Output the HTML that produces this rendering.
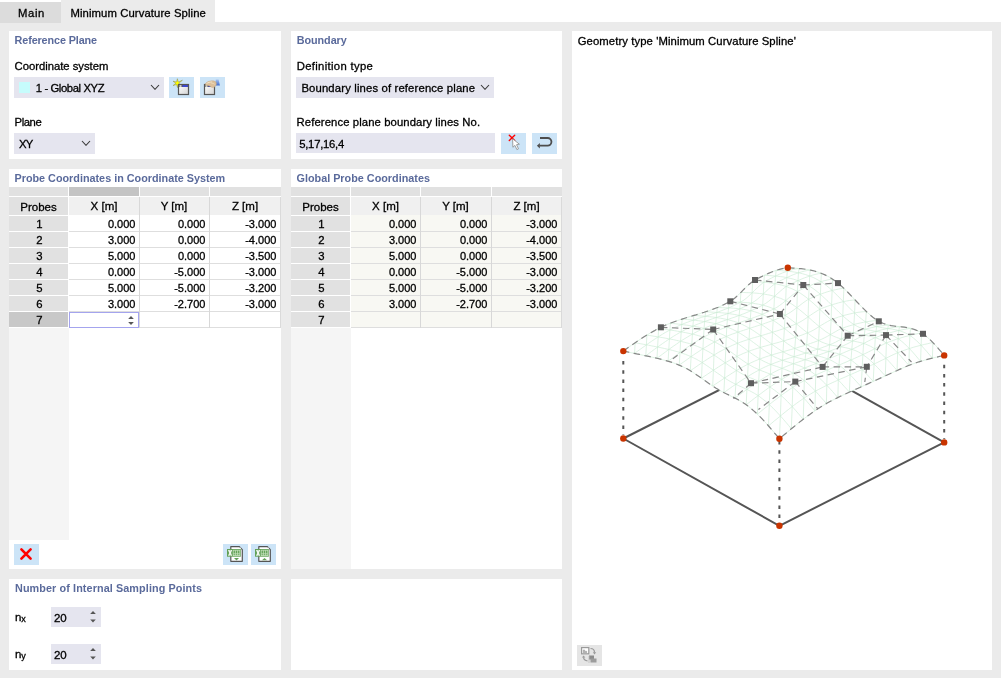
<!DOCTYPE html>
<html><head><meta charset="utf-8"><title>Minimum Curvature Spline</title>
<style>
html,body{margin:0;padding:0;}
body{width:1001px;height:678px;overflow:hidden;background:#ebebeb;position:relative;font-family:"Liberation Sans", Arial, sans-serif;}
body>div,body>svg{position:absolute;}
.t{white-space:nowrap;-webkit-text-stroke:0.3px currentColor;}
.b{-webkit-text-stroke:0;}
</style></head><body>
<div style="left:0px;top:0px;width:1001px;height:22px;background:#ffffff;"></div>
<div style="left:0px;top:2px;width:61px;height:21px;background:#dcdcdc;"></div>
<div style="left:61px;top:0px;width:154px;height:22px;background:#ebebeb;"></div>
<div class="t" style="top:6.28px;font-size:11.3px;line-height:14px;color:#000;letter-spacing:0.599px;left:18.00px;">Main</div>
<div class="t" style="top:6.28px;font-size:11.3px;line-height:14px;color:#000;letter-spacing:0.104px;left:70.40px;">Minimum Curvature Spline</div>
<div style="left:9px;top:31px;width:272px;height:128px;background:#ffffff;"></div>
<div style="left:291px;top:31px;width:271px;height:128px;background:#ffffff;"></div>
<div style="left:9px;top:169px;width:272px;height:400px;background:#ffffff;"></div>
<div style="left:291px;top:169px;width:271px;height:400px;background:#ffffff;"></div>
<div style="left:9px;top:579px;width:272px;height:91px;background:#ffffff;"></div>
<div style="left:291px;top:579px;width:271px;height:91px;background:#ffffff;"></div>
<div style="left:572px;top:31px;width:420px;height:639px;background:#ffffff;"></div>
<div class="t b" style="top:33.16px;font-size:10.8px;line-height:14px;color:#5a6a9b;font-weight:bold;letter-spacing:-0.115px;left:14.60px;">Reference Plane</div>
<div class="t" style="top:58.98px;font-size:11.3px;line-height:14px;color:#000;letter-spacing:-0.023px;left:14.60px;">Coordinate system</div>
<div style="left:14px;top:77px;width:150px;height:21px;background:#e5e5ef;"></div>
<div style="left:19px;top:82px;width:11px;height:11px;background:#c6fcfc;"></div>
<div class="t" style="top:80.98px;font-size:11.3px;line-height:14px;color:#000;letter-spacing:-0.407px;left:35.80px;">1 - Global XYZ</div>
<svg style="left:150.0px;top:84.05px" width="10" height="6.3"><polyline points="1,1 5.0,5.3 9,1" fill="none" stroke="#3a3a3a" stroke-width="1.1"/></svg>
<div style="left:169px;top:77px;width:25px;height:21px;background:#cce4f7;"></div>
<div style="left:200px;top:77px;width:25px;height:21px;background:#cce4f7;"></div>
<div class="t" style="top:114.98px;font-size:11.3px;line-height:14px;color:#000;letter-spacing:-0.403px;left:14.50px;">Plane</div>
<div style="left:14px;top:133px;width:81px;height:21px;background:#e5e5ef;"></div>
<div class="t" style="top:136.98px;font-size:11.3px;line-height:14px;color:#000;letter-spacing:-0.8px;left:18.90px;">XY</div>
<svg style="left:81.0px;top:140.15px" width="10" height="6.3"><polyline points="1,1 5.0,5.3 9,1" fill="none" stroke="#3a3a3a" stroke-width="1.1"/></svg>
<div class="t b" style="top:33.16px;font-size:10.8px;line-height:14px;color:#5a6a9b;font-weight:bold;letter-spacing:-0.041px;left:296.70px;">Boundary</div>
<div class="t" style="top:58.98px;font-size:11.3px;line-height:14px;color:#000;letter-spacing:0.328px;left:296.70px;">Definition type</div>
<div style="left:296px;top:77px;width:198px;height:21px;background:#e5e5ef;"></div>
<div class="t" style="top:80.98px;font-size:11.3px;line-height:14px;color:#000;letter-spacing:0.148px;left:301.40px;">Boundary lines of reference plane</div>
<svg style="left:480.0px;top:84.14999999999999px" width="10" height="6.3"><polyline points="1,1 5.0,5.3 9,1" fill="none" stroke="#3a3a3a" stroke-width="1.1"/></svg>
<div class="t" style="top:114.98px;font-size:11.3px;line-height:14px;color:#000;letter-spacing:0.103px;left:296.50px;">Reference plane boundary lines No.</div>
<div style="left:296px;top:133px;width:199px;height:20px;background:#e5e5ef;"></div>
<div class="t" style="top:137.18px;font-size:11.3px;line-height:14px;color:#000;letter-spacing:-0.254px;left:299.20px;">5,17,16,4</div>
<div style="left:501px;top:133px;width:25px;height:21px;background:#cce4f7;"></div>
<div style="left:532px;top:133px;width:25px;height:21px;background:#cce4f7;"></div>
<div class="t b" style="top:171.26px;font-size:10.8px;line-height:14px;color:#5a6a9b;font-weight:bold;letter-spacing:0.003px;left:14.50px;">Probe Coordinates in Coordinate System</div>
<div style="left:9px;top:187px;width:59px;height:9px;background:#e1e1e1;"></div>
<div style="left:69px;top:187px;width:70px;height:9px;background:#c4c4c4;"></div>
<div style="left:140px;top:187px;width:69px;height:9px;background:#e1e1e1;"></div>
<div style="left:210px;top:187px;width:71px;height:9px;background:#e1e1e1;"></div>
<div style="left:9px;top:197px;width:59px;height:18px;background:#e1e1e1;"></div>
<div style="left:69px;top:197px;width:212px;height:18px;background:#f0f0f0;"></div>
<div style="left:69px;top:215px;width:212px;height:1px;background:#d4d4d4;"></div>
<div class="t" style="top:199.52px;font-size:11.5px;line-height:14px;color:#000;left:8.50px;width:60px;text-align:center;">Probes</div>
<div class="t" style="top:199.02px;font-size:11.5px;line-height:14px;color:#000;left:69.00px;width:70px;text-align:center;">X [m]</div>
<div class="t" style="top:199.02px;font-size:11.5px;line-height:14px;color:#000;left:139.00px;width:70px;text-align:center;">Y [m]</div>
<div class="t" style="top:199.02px;font-size:11.5px;line-height:14px;color:#000;left:210.00px;width:70px;text-align:center;">Z [m]</div>
<div style="left:69px;top:215px;width:212px;height:112px;background:#ffffff;"></div>
<div style="left:9px;top:216px;width:59px;height:15px;background:#e1e1e1;"></div>
<div class="t" style="top:216.88px;font-size:11.3px;line-height:14px;color:#000;left:9.50px;width:60px;text-align:center;">1</div>
<div class="t" style="top:216.99px;font-size:11px;line-height:14px;color:#000;right:865.6px;text-align:right;">0.000</div>
<div class="t" style="top:216.99px;font-size:11px;line-height:14px;color:#000;right:795.6px;text-align:right;">0.000</div>
<div class="t" style="top:216.99px;font-size:11px;line-height:14px;color:#000;right:724.6px;text-align:right;">-3.000</div>
<div style="left:69px;top:231px;width:212px;height:1px;background:#dedede;"></div>
<div style="left:9px;top:232px;width:59px;height:15px;background:#e1e1e1;"></div>
<div class="t" style="top:232.88px;font-size:11.3px;line-height:14px;color:#000;left:9.50px;width:60px;text-align:center;">2</div>
<div class="t" style="top:232.99px;font-size:11px;line-height:14px;color:#000;right:865.6px;text-align:right;">3.000</div>
<div class="t" style="top:232.99px;font-size:11px;line-height:14px;color:#000;right:795.6px;text-align:right;">0.000</div>
<div class="t" style="top:232.99px;font-size:11px;line-height:14px;color:#000;right:724.6px;text-align:right;">-4.000</div>
<div style="left:69px;top:247px;width:212px;height:1px;background:#dedede;"></div>
<div style="left:9px;top:248px;width:59px;height:15px;background:#e1e1e1;"></div>
<div class="t" style="top:248.88px;font-size:11.3px;line-height:14px;color:#000;left:9.50px;width:60px;text-align:center;">3</div>
<div class="t" style="top:248.99px;font-size:11px;line-height:14px;color:#000;right:865.6px;text-align:right;">5.000</div>
<div class="t" style="top:248.99px;font-size:11px;line-height:14px;color:#000;right:795.6px;text-align:right;">0.000</div>
<div class="t" style="top:248.99px;font-size:11px;line-height:14px;color:#000;right:724.6px;text-align:right;">-3.500</div>
<div style="left:69px;top:263px;width:212px;height:1px;background:#dedede;"></div>
<div style="left:9px;top:264px;width:59px;height:15px;background:#e1e1e1;"></div>
<div class="t" style="top:264.88px;font-size:11.3px;line-height:14px;color:#000;left:9.50px;width:60px;text-align:center;">4</div>
<div class="t" style="top:264.99px;font-size:11px;line-height:14px;color:#000;right:865.6px;text-align:right;">0.000</div>
<div class="t" style="top:264.99px;font-size:11px;line-height:14px;color:#000;right:795.6px;text-align:right;">-5.000</div>
<div class="t" style="top:264.99px;font-size:11px;line-height:14px;color:#000;right:724.6px;text-align:right;">-3.000</div>
<div style="left:69px;top:279px;width:212px;height:1px;background:#dedede;"></div>
<div style="left:9px;top:280px;width:59px;height:15px;background:#e1e1e1;"></div>
<div class="t" style="top:280.88px;font-size:11.3px;line-height:14px;color:#000;left:9.50px;width:60px;text-align:center;">5</div>
<div class="t" style="top:280.99px;font-size:11px;line-height:14px;color:#000;right:865.6px;text-align:right;">5.000</div>
<div class="t" style="top:280.99px;font-size:11px;line-height:14px;color:#000;right:795.6px;text-align:right;">-5.000</div>
<div class="t" style="top:280.99px;font-size:11px;line-height:14px;color:#000;right:724.6px;text-align:right;">-3.200</div>
<div style="left:69px;top:295px;width:212px;height:1px;background:#dedede;"></div>
<div style="left:9px;top:296px;width:59px;height:15px;background:#e1e1e1;"></div>
<div class="t" style="top:296.88px;font-size:11.3px;line-height:14px;color:#000;left:9.50px;width:60px;text-align:center;">6</div>
<div class="t" style="top:296.99px;font-size:11px;line-height:14px;color:#000;right:865.6px;text-align:right;">3.000</div>
<div class="t" style="top:296.99px;font-size:11px;line-height:14px;color:#000;right:795.6px;text-align:right;">-2.700</div>
<div class="t" style="top:296.99px;font-size:11px;line-height:14px;color:#000;right:724.6px;text-align:right;">-3.000</div>
<div style="left:69px;top:311px;width:212px;height:1px;background:#dedede;"></div>
<div style="left:9px;top:312px;width:59px;height:15px;background:#c8c8c8;"></div>
<div class="t" style="top:312.88px;font-size:11.3px;line-height:14px;color:#000;left:9.50px;width:60px;text-align:center;">7</div>
<div style="left:69px;top:327px;width:212px;height:1px;background:#dedede;"></div>
<div style="left:139px;top:197px;width:1px;height:131px;background:#d8d8d8;"></div>
<div style="left:209px;top:197px;width:1px;height:131px;background:#d8d8d8;"></div>
<div style="left:280px;top:197px;width:1px;height:131px;background:#dadada;"></div>
<div style="left:9px;top:328px;width:60px;height:212px;background:#f5f5f5;"></div>
<div class="t b" style="top:171.26px;font-size:10.8px;line-height:14px;color:#5a6a9b;font-weight:bold;letter-spacing:0.01px;left:296.50px;">Global Probe Coordinates</div>
<div style="left:291px;top:187px;width:59px;height:9px;background:#e1e1e1;"></div>
<div style="left:351px;top:187px;width:69px;height:9px;background:#e1e1e1;"></div>
<div style="left:421px;top:187px;width:70px;height:9px;background:#e1e1e1;"></div>
<div style="left:492px;top:187px;width:70px;height:9px;background:#e1e1e1;"></div>
<div style="left:291px;top:197px;width:59px;height:18px;background:#e1e1e1;"></div>
<div style="left:351px;top:197px;width:211px;height:18px;background:#f0f0f0;"></div>
<div style="left:351px;top:215px;width:211px;height:1px;background:#d4d4d4;"></div>
<div class="t" style="top:199.52px;font-size:11.5px;line-height:14px;color:#000;left:290.50px;width:60px;text-align:center;">Probes</div>
<div class="t" style="top:199.02px;font-size:11.5px;line-height:14px;color:#000;left:350.50px;width:70px;text-align:center;">X [m]</div>
<div class="t" style="top:199.02px;font-size:11.5px;line-height:14px;color:#000;left:420.50px;width:70px;text-align:center;">Y [m]</div>
<div class="t" style="top:199.02px;font-size:11.5px;line-height:14px;color:#000;left:491.50px;width:70px;text-align:center;">Z [m]</div>
<div style="left:351px;top:215px;width:211px;height:112px;background:#f8f8f3;"></div>
<div style="left:291px;top:216px;width:59px;height:15px;background:#e1e1e1;"></div>
<div class="t" style="top:216.88px;font-size:11.3px;line-height:14px;color:#000;left:291.50px;width:60px;text-align:center;">1</div>
<div class="t" style="top:216.99px;font-size:11px;line-height:14px;color:#000;right:584.6px;text-align:right;">0.000</div>
<div class="t" style="top:216.99px;font-size:11px;line-height:14px;color:#000;right:513.6px;text-align:right;">0.000</div>
<div class="t" style="top:216.99px;font-size:11px;line-height:14px;color:#000;right:443.6px;text-align:right;">-3.000</div>
<div style="left:351px;top:231px;width:211px;height:1px;background:#dedede;"></div>
<div style="left:291px;top:232px;width:59px;height:15px;background:#e1e1e1;"></div>
<div class="t" style="top:232.88px;font-size:11.3px;line-height:14px;color:#000;left:291.50px;width:60px;text-align:center;">2</div>
<div class="t" style="top:232.99px;font-size:11px;line-height:14px;color:#000;right:584.6px;text-align:right;">3.000</div>
<div class="t" style="top:232.99px;font-size:11px;line-height:14px;color:#000;right:513.6px;text-align:right;">0.000</div>
<div class="t" style="top:232.99px;font-size:11px;line-height:14px;color:#000;right:443.6px;text-align:right;">-4.000</div>
<div style="left:351px;top:247px;width:211px;height:1px;background:#dedede;"></div>
<div style="left:291px;top:248px;width:59px;height:15px;background:#e1e1e1;"></div>
<div class="t" style="top:248.88px;font-size:11.3px;line-height:14px;color:#000;left:291.50px;width:60px;text-align:center;">3</div>
<div class="t" style="top:248.99px;font-size:11px;line-height:14px;color:#000;right:584.6px;text-align:right;">5.000</div>
<div class="t" style="top:248.99px;font-size:11px;line-height:14px;color:#000;right:513.6px;text-align:right;">0.000</div>
<div class="t" style="top:248.99px;font-size:11px;line-height:14px;color:#000;right:443.6px;text-align:right;">-3.500</div>
<div style="left:351px;top:263px;width:211px;height:1px;background:#dedede;"></div>
<div style="left:291px;top:264px;width:59px;height:15px;background:#e1e1e1;"></div>
<div class="t" style="top:264.88px;font-size:11.3px;line-height:14px;color:#000;left:291.50px;width:60px;text-align:center;">4</div>
<div class="t" style="top:264.99px;font-size:11px;line-height:14px;color:#000;right:584.6px;text-align:right;">0.000</div>
<div class="t" style="top:264.99px;font-size:11px;line-height:14px;color:#000;right:513.6px;text-align:right;">-5.000</div>
<div class="t" style="top:264.99px;font-size:11px;line-height:14px;color:#000;right:443.6px;text-align:right;">-3.000</div>
<div style="left:351px;top:279px;width:211px;height:1px;background:#dedede;"></div>
<div style="left:291px;top:280px;width:59px;height:15px;background:#e1e1e1;"></div>
<div class="t" style="top:280.88px;font-size:11.3px;line-height:14px;color:#000;left:291.50px;width:60px;text-align:center;">5</div>
<div class="t" style="top:280.99px;font-size:11px;line-height:14px;color:#000;right:584.6px;text-align:right;">5.000</div>
<div class="t" style="top:280.99px;font-size:11px;line-height:14px;color:#000;right:513.6px;text-align:right;">-5.000</div>
<div class="t" style="top:280.99px;font-size:11px;line-height:14px;color:#000;right:443.6px;text-align:right;">-3.200</div>
<div style="left:351px;top:295px;width:211px;height:1px;background:#dedede;"></div>
<div style="left:291px;top:296px;width:59px;height:15px;background:#e1e1e1;"></div>
<div class="t" style="top:296.88px;font-size:11.3px;line-height:14px;color:#000;left:291.50px;width:60px;text-align:center;">6</div>
<div class="t" style="top:296.99px;font-size:11px;line-height:14px;color:#000;right:584.6px;text-align:right;">3.000</div>
<div class="t" style="top:296.99px;font-size:11px;line-height:14px;color:#000;right:513.6px;text-align:right;">-2.700</div>
<div class="t" style="top:296.99px;font-size:11px;line-height:14px;color:#000;right:443.6px;text-align:right;">-3.000</div>
<div style="left:351px;top:311px;width:211px;height:1px;background:#dedede;"></div>
<div style="left:291px;top:312px;width:59px;height:15px;background:#e1e1e1;"></div>
<div class="t" style="top:312.88px;font-size:11.3px;line-height:14px;color:#000;left:291.50px;width:60px;text-align:center;">7</div>
<div style="left:351px;top:327px;width:211px;height:1px;background:#dedede;"></div>
<div style="left:420px;top:197px;width:1px;height:131px;background:#d8d8d8;"></div>
<div style="left:491px;top:197px;width:1px;height:131px;background:#d8d8d8;"></div>
<div style="left:561px;top:197px;width:1px;height:131px;background:#dadada;"></div>
<div style="left:291px;top:328px;width:60px;height:241px;background:#f5f5f5;"></div>
<div style="left:69px;top:312px;width:70px;height:16px;background:#ffffff;box-shadow: inset 0 0 0 1px #a4a4ee;"></div>
<div style="left:14px;top:544px;width:25px;height:21px;background:#cce4f7;"></div>
<div style="left:223px;top:544px;width:25px;height:21px;background:#cce4f7;"></div>
<div style="left:251px;top:544px;width:25px;height:21px;background:#cce4f7;"></div>
<div class="t b" style="top:581.26px;font-size:10.8px;line-height:14px;color:#5a6a9b;font-weight:bold;letter-spacing:0.104px;left:15.00px;">Number of Internal Sampling Points</div>
<div class="t" style="top:609.82px;font-size:11.5px;line-height:14px;color:#000;left:14.90px;">n<span style="font-size:9px;position:relative;top:1px">x</span></div>
<div style="left:51px;top:607px;width:50px;height:20px;background:#e5e5ef;"></div>
<div class="t" style="top:610.62px;font-size:11.5px;line-height:14px;color:#000;left:53.90px;">20</div>
<div class="t" style="top:646.82px;font-size:11.5px;line-height:14px;color:#000;left:14.90px;">n<span style="font-size:9px;position:relative;top:1px">y</span></div>
<div style="left:51px;top:644px;width:50px;height:20px;background:#e5e5ef;"></div>
<div class="t" style="top:647.62px;font-size:11.5px;line-height:14px;color:#000;left:53.90px;">20</div>
<div class="t" style="top:33.98px;font-size:11.3px;line-height:14px;color:#000;letter-spacing:0.09px;left:577.70px;">Geometry type 'Minimum Curvature Spline'</div>
<div style="left:577px;top:645px;width:25px;height:21px;background:#e5e5e5;"></div>
<svg style="left:572px;top:31px" width="420" height="639" viewBox="572 31 420 639"><line x1="623.3" y1="438.5" x2="788.1" y2="355.1" stroke="#555555" stroke-width="2"/>
<line x1="944.2" y1="442.4" x2="788.1" y2="355.1" stroke="#555555" stroke-width="2"/>
<polyline points="623.3,438.5 779.4,525.8 944.2,442.4" fill="none" stroke="#555555" stroke-width="2"/>
<line x1="623.3" y1="361.0" x2="623.3" y2="435.0" stroke="#555555" stroke-width="2" stroke-dasharray="3.5 5.7"/>
<line x1="779.4" y1="441.0" x2="779.4" y2="522.3" stroke="#555555" stroke-width="2" stroke-dasharray="3.5 5.7"/>
<line x1="944.2" y1="364.7" x2="944.2" y2="438.9" stroke="#555555" stroke-width="2" stroke-dasharray="3.5 5.7"/>
<path d="M623.3,351.1 L626.1,349.1 L628.9,347.1 L631.7,345.1 L634.5,343.2 L637.3,341.3 L640.1,339.4 L642.9,337.6 L645.7,335.8 L648.5,334.1 L651.3,332.4 L654.1,330.9 L656.8,329.3 L659.6,327.9 L662.4,326.6 L665.2,325.3 L668.0,324.1 L670.8,323.0 L673.6,322.0 L676.4,321.0 L679.2,320.0 L682.0,319.1 L684.7,318.2 L687.5,317.4 L690.3,316.5 L693.1,315.7 L695.9,314.9 L698.7,314.0 L701.5,313.1 L704.2,312.3 L707.0,311.3 L709.8,310.4 L712.6,309.4 L715.4,308.3 L718.2,307.2 L721.0,306.0 L723.7,304.7 L726.5,303.3 L729.3,301.8 L732.1,300.2 L734.9,298.0 L737.7,295.5 L740.5,292.8 L743.3,289.9 L746.1,287.1 L748.9,284.5 L751.7,282.2 L754.4,280.3 L757.2,278.8 L760.0,277.4 L762.8,276.0 L765.6,274.7 L768.4,273.4 L771.1,272.2 L773.9,271.1 L776.7,270.2 L779.5,269.3 L782.3,268.7 L785.0,268.1 L787.8,267.8 L790.5,267.9 L793.1,268.1 L795.8,268.2 L798.4,268.5 L801.1,268.7 L803.7,269.0 L806.4,269.4 L809.0,269.8 L811.7,270.4 L814.4,271.0 L817.0,271.8 L819.7,272.7 L822.3,273.7 L825.0,274.9 L827.7,276.2 L830.3,277.7 L833.0,279.4 L835.7,281.3 L838.3,283.4 L841.0,285.7 L843.7,288.1 L846.3,290.7 L849.0,293.5 L851.7,296.3 L854.3,299.1 L857.0,302.0 L859.7,304.8 L862.3,307.5 L865.0,310.2 L867.7,312.8 L870.3,315.1 L872.9,317.3 L875.6,319.3 L878.2,321.0 L880.8,322.4 L883.5,323.5 L886.1,324.4 L888.7,325.1 L891.3,325.6 L893.9,326.0 L896.5,326.4 L899.1,326.6 L901.7,326.9 L904.3,327.2 L907.0,327.6 L909.6,328.1 L912.2,328.8 L914.8,329.6 L917.5,330.7 L920.1,332.0 L922.8,333.6 L925.4,335.6 L928.1,337.9 L930.8,340.4 L933.4,343.1 L936.1,346.0 L938.8,349.1 L941.5,352.2 L944.2,355.4 L941.4,356.0 L938.6,356.7 L935.8,357.3 L933.0,358.0 L930.2,358.7 L927.4,359.4 L924.6,360.2 L921.8,361.0 L919.0,361.8 L916.2,362.7 L913.4,363.7 L910.7,364.7 L907.9,365.8 L905.1,367.0 L902.3,368.2 L899.5,369.4 L896.7,370.7 L893.9,371.9 L891.1,373.2 L888.3,374.5 L885.5,375.8 L882.6,377.1 L879.8,378.4 L876.9,379.7 L874.0,381.0 L871.2,382.3 L868.3,383.6 L865.5,384.9 L862.6,386.2 L859.8,387.5 L857.0,388.7 L854.1,390.0 L851.4,391.2 L848.6,392.5 L845.8,393.8 L843.1,395.0 L840.4,396.3 L837.7,397.6 L835.0,399.0 L832.2,400.4 L829.5,401.8 L826.8,403.3 L824.1,404.9 L821.4,406.5 L818.7,408.3 L815.9,410.1 L813.2,412.0 L810.4,413.9 L807.6,416.0 L804.8,418.1 L802.0,420.2 L799.2,422.4 L796.4,424.7 L793.6,427.0 L790.7,429.3 L787.9,431.7 L785.1,434.0 L782.2,436.4 L779.4,438.8 L776.8,435.7 L774.2,432.6 L771.6,429.5 L769.0,426.5 L766.4,423.5 L763.8,420.7 L761.2,417.9 L758.5,415.3 L755.9,412.8 L753.2,410.4 L750.6,408.1 L747.9,406.0 L745.2,404.1 L742.6,402.3 L739.9,400.7 L737.3,399.3 L734.6,397.9 L732.0,396.6 L729.4,395.3 L726.7,394.0 L724.1,392.7 L721.4,391.3 L718.8,389.8 L716.1,388.2 L713.5,386.5 L710.8,384.7 L708.2,382.9 L705.5,381.0 L702.9,379.2 L700.2,377.3 L697.5,375.4 L694.9,373.6 L692.2,371.9 L689.6,370.3 L687.0,368.8 L684.3,367.5 L681.7,366.2 L679.0,365.1 L676.4,364.0 L673.8,363.0 L671.2,362.1 L668.5,361.3 L665.9,360.6 L663.3,359.9 L660.6,359.2 L658.0,358.5 L655.3,357.9 L652.7,357.3 L650.0,356.7 L647.4,356.1 L644.7,355.6 L642.0,355.0 L639.4,354.4 L636.7,353.9 L634.0,353.3 L631.3,352.7 L628.7,352.2 L626.0,351.6 L623.3,351.1Z" fill="#ffffff" stroke="none"/>
<path d="M623.3,351.1 L626.0,351.6 L628.7,352.2 L631.3,352.7 L634.0,353.3 L636.7,353.9 L639.4,354.4 L642.0,355.0 L644.7,355.6 L647.4,356.1 L650.0,356.7 L652.7,357.3 L655.3,357.9 L658.0,358.5 L660.6,359.2 L663.3,359.9 L665.9,360.6 L668.5,361.3 L671.2,362.1 L673.8,363.0 L676.4,364.0 L679.0,365.1 L681.7,366.2 L684.3,367.5 L687.0,368.8 L689.6,370.3 L692.2,371.9 L694.9,373.6 L697.5,375.4 L700.2,377.3 L702.9,379.2 L705.5,381.0 L708.2,382.9 L710.8,384.7 L713.5,386.5 L716.1,388.2 L718.8,389.8 L721.4,391.3 L724.1,392.7 L726.7,394.0 L729.4,395.3 L732.0,396.6 L734.6,397.9 L737.3,399.3 L739.9,400.7 L742.6,402.3 L745.2,404.1 L747.9,406.0 L750.6,408.1 L753.2,410.4 L755.9,412.8 L758.5,415.3 L761.2,417.9 L763.8,420.7 L766.4,423.5 L769.0,426.5 L771.6,429.5 L774.2,432.6 L776.8,435.7 L779.4,438.8 M623.3,351.1 L626.1,349.1 L628.9,347.1 L631.7,345.1 L634.5,343.2 L637.3,341.3 L640.1,339.4 L642.9,337.6 L645.7,335.8 L648.5,334.1 L651.3,332.4 L654.1,330.9 L656.8,329.3 L659.6,327.9 L662.4,326.6 L665.2,325.3 L668.0,324.1 L670.8,323.0 L673.6,322.0 L676.4,321.0 L679.2,320.0 L682.0,319.1 L684.7,318.2 L687.5,317.4 L690.3,316.5 L693.1,315.7 L695.9,314.9 L698.7,314.0 L701.5,313.1 L704.2,312.3 L707.0,311.3 L709.8,310.4 L712.6,309.4 L715.4,308.3 L718.2,307.2 L721.0,306.0 L723.7,304.7 L726.5,303.3 L729.3,301.8 L732.1,300.2 L734.9,298.0 L737.7,295.5 L740.5,292.8 L743.3,289.9 L746.1,287.1 L748.9,284.5 L751.7,282.2 L754.4,280.3 L757.2,278.8 L760.0,277.4 L762.8,276.0 L765.6,274.7 L768.4,273.4 L771.1,272.2 L773.9,271.1 L776.7,270.2 L779.5,269.3 L782.3,268.7 L785.0,268.1 L787.8,267.8 M635.1,342.8 L637.8,343.2 L640.4,343.7 L643.1,344.2 L645.8,344.7 L648.5,345.2 L651.2,345.8 L653.8,346.3 L656.5,346.8 L659.2,347.4 L661.8,347.9 L664.5,348.5 L667.1,349.1 L669.8,349.7 L672.4,350.4 L675.1,351.1 L677.7,351.8 L680.3,352.6 L683.0,353.5 L685.6,354.4 L688.3,355.5 L690.9,356.6 L693.5,357.8 L696.2,359.1 L698.8,360.6 L701.5,362.1 L704.1,363.8 L706.8,365.6 L709.4,367.4 L712.1,369.3 L714.7,371.2 L717.4,373.1 L720.1,374.9 L722.7,376.8 L725.4,378.5 L728.0,380.1 L730.7,381.7 L733.3,383.1 L736.0,384.4 L738.6,385.6 L741.2,386.8 L743.9,388.0 L746.5,389.2 L749.2,390.5 L751.8,391.9 L754.5,393.4 L757.1,395.0 L759.8,396.8 L762.4,398.8 L765.1,400.9 L767.8,403.2 L770.4,405.6 L773.1,408.2 L775.7,410.9 L778.3,413.7 L781.0,416.6 L783.6,419.6 L786.2,422.6 L788.8,425.7 L791.3,428.8 M634.6,353.4 L637.4,351.3 L640.2,349.3 L643.0,347.3 L645.8,345.3 L648.6,343.3 L651.4,341.4 L654.2,339.5 L657.0,337.7 L659.8,335.9 L662.5,334.2 L665.3,332.5 L668.1,331.0 L670.9,329.5 L673.7,328.1 L676.5,326.8 L679.3,325.5 L682.0,324.3 L684.8,323.2 L687.6,322.2 L690.4,321.2 L693.2,320.2 L695.9,319.3 L698.7,318.3 L701.5,317.4 L704.3,316.6 L707.1,315.7 L709.9,314.8 L712.6,313.8 L715.4,312.9 L718.2,311.9 L721.0,310.9 L723.8,309.8 L726.6,308.7 L729.4,307.6 L732.2,306.3 L735.0,305.0 L737.7,303.6 L740.5,302.1 L743.3,300.5 L746.1,298.4 L748.9,295.9 L751.7,293.2 L754.5,290.5 L757.3,287.8 L760.1,285.2 L762.9,282.9 L765.6,281.1 L768.4,279.6 L771.2,278.2 L774.0,276.8 L776.8,275.5 L779.5,274.2 L782.3,273.0 L785.1,272.0 L787.9,271.0 L790.7,270.2 L793.4,269.4 L796.2,268.9 L799.0,268.5 M646.9,335.1 L649.5,335.5 L652.2,335.9 L654.9,336.4 L657.6,336.8 L660.3,337.3 L662.9,337.7 L665.6,338.2 L668.3,338.7 L670.9,339.2 L673.6,339.7 L676.3,340.3 L678.9,340.9 L681.6,341.5 L684.2,342.2 L686.9,342.9 L689.5,343.6 L692.1,344.5 L694.8,345.4 L697.4,346.4 L700.1,347.5 L702.7,348.7 L705.3,350.0 L708.0,351.4 L710.6,352.9 L713.3,354.5 L715.9,356.3 L718.6,358.1 L721.3,360.0 L723.9,361.9 L726.6,363.8 L729.2,365.7 L731.9,367.5 L734.6,369.3 L737.2,371.0 L739.9,372.6 L742.5,374.1 L745.2,375.4 L747.8,376.6 L750.4,377.8 L753.1,378.9 L755.7,380.0 L758.4,381.1 L761.0,382.3 L763.6,383.5 L766.3,384.9 L768.9,386.4 L771.6,388.1 L774.3,390.0 L776.9,392.0 L779.6,394.2 L782.2,396.5 L784.9,399.0 L787.5,401.6 L790.2,404.4 L792.8,407.2 L795.4,410.2 L798.0,413.2 L800.6,416.2 L803.2,419.3 M645.8,355.8 L648.6,353.7 L651.4,351.6 L654.2,349.5 L657.0,347.5 L659.8,345.5 L662.6,343.5 L665.4,341.6 L668.2,339.7 L671.0,337.9 L673.8,336.1 L676.6,334.4 L679.4,332.8 L682.2,331.3 L684.9,329.8 L687.7,328.5 L690.5,327.2 L693.3,326.0 L696.0,324.8 L698.8,323.7 L701.6,322.7 L704.4,321.6 L707.1,320.7 L709.9,319.7 L712.7,318.7 L715.5,317.8 L718.2,316.9 L721.0,315.9 L723.8,315.0 L726.6,314.0 L729.4,313.0 L732.2,311.9 L735.0,310.8 L737.8,309.7 L740.6,308.5 L743.4,307.2 L746.2,305.9 L748.9,304.5 L751.7,303.0 L754.5,301.4 L757.3,299.3 L760.1,296.9 L762.9,294.3 L765.7,291.7 L768.5,289.1 L771.3,286.6 L774.1,284.4 L776.8,282.6 L779.6,281.1 L782.4,279.7 L785.2,278.4 L788.0,277.1 L790.7,275.8 L793.5,274.6 L796.3,273.6 L799.1,272.6 L801.9,271.8 L804.6,271.1 L807.4,270.5 L810.2,270.1 M658.6,328.4 L661.3,328.8 L664.0,329.2 L666.7,329.5 L669.3,329.9 L672.0,330.3 L674.7,330.7 L677.4,331.2 L680.0,331.6 L682.7,332.1 L685.4,332.6 L688.0,333.2 L690.7,333.7 L693.3,334.3 L696.0,335.0 L698.6,335.7 L701.3,336.5 L703.9,337.4 L706.5,338.3 L709.2,339.4 L711.8,340.6 L714.5,341.8 L717.1,343.2 L719.7,344.7 L722.4,346.3 L725.0,348.0 L727.7,349.7 L730.4,351.6 L733.0,353.5 L735.7,355.4 L738.3,357.4 L741.0,359.3 L743.6,361.1 L746.3,362.9 L749.0,364.6 L751.6,366.1 L754.2,367.5 L756.9,368.7 L759.5,369.9 L762.2,371.0 L764.8,372.0 L767.4,373.0 L770.1,374.0 L772.7,375.0 L775.4,376.2 L778.0,377.4 L780.6,378.8 L783.3,380.4 L786.0,382.1 L788.6,384.0 L791.3,386.1 L793.9,388.3 L796.6,390.7 L799.2,393.3 L801.9,396.0 L804.5,398.8 L807.1,401.7 L809.7,404.7 L812.3,407.7 L814.9,410.7 M657.0,358.3 L659.8,356.2 L662.6,354.1 L665.4,352.0 L668.2,349.9 L671.0,347.9 L673.8,345.9 L676.6,344.0 L679.4,342.1 L682.2,340.2 L685.0,338.5 L687.8,336.8 L690.6,335.1 L693.4,333.6 L696.1,332.1 L698.9,330.7 L701.7,329.4 L704.5,328.2 L707.2,327.0 L710.0,325.9 L712.8,324.8 L715.5,323.8 L718.3,322.8 L721.1,321.8 L723.8,320.8 L726.6,319.9 L729.4,318.9 L732.2,317.9 L735.0,317.0 L737.7,316.0 L740.5,314.9 L743.3,313.9 L746.1,312.8 L748.9,311.6 L751.7,310.4 L754.5,309.2 L757.3,307.9 L760.1,306.5 L762.9,305.0 L765.7,303.4 L768.5,301.4 L771.3,299.1 L774.1,296.7 L776.9,294.2 L779.7,291.7 L782.5,289.3 L785.2,287.2 L788.0,285.5 L790.8,284.1 L793.6,282.7 L796.4,281.4 L799.2,280.1 L801.9,278.9 L804.7,277.8 L807.5,276.8 L810.3,275.8 L813.0,275.0 L815.8,274.3 L818.6,273.7 L821.4,273.3 M670.4,323.2 L673.1,323.5 L675.7,323.8 L678.4,324.1 L681.1,324.4 L683.7,324.8 L686.4,325.1 L689.1,325.5 L691.7,326.0 L694.4,326.4 L697.1,326.9 L699.7,327.4 L702.4,328.0 L705.0,328.6 L707.6,329.2 L710.3,330.0 L712.9,330.8 L715.6,331.7 L718.2,332.7 L720.8,333.8 L723.5,335.0 L726.1,336.4 L728.8,337.8 L731.4,339.4 L734.1,341.0 L736.7,342.8 L739.4,344.6 L742.0,346.5 L744.7,348.5 L747.3,350.4 L750.0,352.4 L752.6,354.3 L755.3,356.1 L757.9,357.8 L760.6,359.5 L763.2,361.0 L765.9,362.3 L768.5,363.5 L771.1,364.5 L773.7,365.5 L776.4,366.4 L779.0,367.3 L781.6,368.2 L784.3,369.2 L786.9,370.2 L789.5,371.3 L792.2,372.6 L794.8,374.0 L797.5,375.6 L800.1,377.4 L802.8,379.4 L805.4,381.5 L808.1,383.9 L810.7,386.3 L813.4,389.0 L816.0,391.7 L818.6,394.6 L821.2,397.6 L823.8,400.5 L826.4,403.6 M668.1,361.2 L671.0,359.1 L673.8,357.0 L676.6,355.0 L679.4,352.9 L682.2,350.9 L685.0,348.9 L687.8,347.0 L690.6,345.1 L693.4,343.3 L696.2,341.6 L698.9,339.9 L701.7,338.3 L704.5,336.7 L707.3,335.3 L710.1,333.9 L712.8,332.6 L715.6,331.4 L718.4,330.2 L721.1,329.1 L723.9,328.1 L726.6,327.1 L729.4,326.1 L732.2,325.1 L734.9,324.2 L737.7,323.2 L740.5,322.3 L743.3,321.3 L746.1,320.4 L748.9,319.4 L751.7,318.4 L754.5,317.4 L757.3,316.3 L760.1,315.2 L762.9,314.0 L765.7,312.8 L768.5,311.6 L771.3,310.2 L774.1,308.8 L776.9,307.3 L779.7,305.4 L782.5,303.3 L785.3,301.0 L788.1,298.6 L790.9,296.3 L793.7,294.1 L796.4,292.1 L799.2,290.5 L802.0,289.2 L804.8,287.9 L807.6,286.6 L810.3,285.5 L813.1,284.3 L815.9,283.3 L818.7,282.3 L821.5,281.5 L824.3,280.7 L827.0,280.1 L829.8,279.5 L832.6,279.1 M682.2,319.1 L684.8,319.3 L687.5,319.5 L690.1,319.8 L692.8,320.1 L695.5,320.4 L698.1,320.7 L700.8,321.0 L703.4,321.4 L706.1,321.8 L708.7,322.3 L711.4,322.8 L714.0,323.3 L716.7,323.9 L719.3,324.6 L721.9,325.4 L724.6,326.2 L727.2,327.1 L729.8,328.2 L732.5,329.3 L735.1,330.6 L737.8,332.0 L740.4,333.5 L743.0,335.2 L745.7,336.9 L748.3,338.7 L751.0,340.6 L753.6,342.6 L756.3,344.5 L758.9,346.5 L761.6,348.5 L764.2,350.4 L766.8,352.2 L769.5,353.9 L772.1,355.5 L774.8,357.0 L777.4,358.2 L780.0,359.3 L782.6,360.3 L785.3,361.2 L787.9,362.0 L790.5,362.8 L793.1,363.6 L795.7,364.5 L798.4,365.4 L801.0,366.4 L803.6,367.5 L806.3,368.8 L808.9,370.3 L811.6,372.0 L814.2,373.9 L816.8,375.9 L819.5,378.1 L822.1,380.6 L824.8,383.2 L827.4,385.9 L830.0,388.7 L832.6,391.6 L835.2,394.6 L837.9,397.6 M679.2,365.1 L682.0,363.1 L684.9,361.1 L687.7,359.1 L690.5,357.1 L693.3,355.1 L696.1,353.2 L698.9,351.4 L701.7,349.5 L704.5,347.8 L707.3,346.1 L710.1,344.4 L712.9,342.9 L715.6,341.4 L718.4,340.0 L721.2,338.7 L723.9,337.5 L726.7,336.3 L729.5,335.2 L732.2,334.1 L735.0,333.2 L737.7,332.2 L740.5,331.3 L743.3,330.4 L746.0,329.5 L748.8,328.6 L751.6,327.7 L754.4,326.8 L757.2,325.9 L760.0,325.0 L762.8,324.1 L765.6,323.1 L768.4,322.1 L771.2,321.1 L774.0,320.0 L776.8,318.9 L779.7,317.7 L782.5,316.5 L785.3,315.2 L788.1,313.7 L790.9,312.0 L793.7,310.0 L796.5,307.9 L799.3,305.8 L802.1,303.6 L804.9,301.6 L807.6,299.8 L810.4,298.4 L813.2,297.1 L816.0,296.0 L818.8,294.9 L821.6,293.8 L824.4,292.8 L827.1,291.9 L829.9,291.1 L832.7,290.3 L835.5,289.7 L838.3,289.1 L841.1,288.6 L843.9,288.3 M693.9,315.5 L696.5,315.6 L699.2,315.8 L701.9,316.0 L704.5,316.2 L707.2,316.5 L709.8,316.8 L712.5,317.0 L715.1,317.4 L717.8,317.8 L720.4,318.2 L723.1,318.7 L725.7,319.2 L728.3,319.8 L731.0,320.5 L733.6,321.3 L736.2,322.1 L738.9,323.1 L741.5,324.2 L744.2,325.4 L746.8,326.8 L749.4,328.2 L752.1,329.8 L754.7,331.5 L757.3,333.3 L760.0,335.2 L762.6,337.2 L765.3,339.2 L767.9,341.2 L770.6,343.2 L773.2,345.2 L775.8,347.1 L778.5,348.9 L781.1,350.6 L783.7,352.2 L786.4,353.5 L789.0,354.8 L791.6,355.8 L794.2,356.7 L796.9,357.5 L799.5,358.2 L802.1,358.9 L804.7,359.6 L807.3,360.3 L809.9,361.1 L812.5,362.0 L815.2,363.0 L817.8,364.2 L820.4,365.6 L823.1,367.2 L825.7,368.9 L828.4,370.9 L831.0,373.0 L833.6,375.4 L836.3,377.9 L838.9,380.6 L841.5,383.4 L844.1,386.3 L846.8,389.2 L849.4,392.1 M690.3,370.8 L693.2,368.8 L696.0,366.9 L698.8,364.9 L701.6,363.0 L704.4,361.1 L707.2,359.3 L710.0,357.5 L712.8,355.8 L715.6,354.1 L718.4,352.4 L721.2,350.9 L724.0,349.4 L726.8,348.0 L729.6,346.6 L732.3,345.4 L735.1,344.2 L737.9,343.1 L740.6,342.1 L743.4,341.1 L746.1,340.2 L748.9,339.3 L751.6,338.4 L754.4,337.6 L757.2,336.8 L759.9,336.0 L762.7,335.2 L765.5,334.4 L768.3,333.5 L771.1,332.7 L773.9,331.8 L776.7,331.0 L779.6,330.0 L782.4,329.1 L785.2,328.1 L788.0,327.1 L790.8,326.0 L793.7,324.9 L796.5,323.7 L799.3,322.4 L802.1,320.8 L804.9,319.0 L807.7,317.1 L810.5,315.2 L813.3,313.3 L816.1,311.5 L818.9,309.8 L821.6,308.5 L824.4,307.4 L827.2,306.4 L830.0,305.4 L832.8,304.5 L835.6,303.7 L838.4,302.9 L841.2,302.2 L843.9,301.5 L846.7,301.0 L849.5,300.5 L852.3,300.2 L855.1,299.9 M705.6,311.8 L708.3,311.9 L710.9,312.1 L713.6,312.2 L716.3,312.4 L718.9,312.6 L721.6,312.8 L724.2,313.0 L726.9,313.3 L729.5,313.7 L732.2,314.1 L734.8,314.5 L737.4,315.1 L740.1,315.7 L742.7,316.4 L745.4,317.2 L748.0,318.1 L750.6,319.1 L753.3,320.2 L755.9,321.5 L758.6,322.9 L761.2,324.4 L763.8,326.1 L766.5,327.9 L769.1,329.8 L771.8,331.7 L774.4,333.7 L777.1,335.8 L779.7,337.8 L782.3,339.9 L785.0,341.9 L787.6,343.8 L790.3,345.6 L792.9,347.3 L795.5,348.8 L798.2,350.1 L800.8,351.3 L803.4,352.3 L806.0,353.1 L808.6,353.8 L811.3,354.4 L813.9,355.0 L816.5,355.6 L819.1,356.2 L821.7,356.9 L824.3,357.7 L827.0,358.6 L829.6,359.7 L832.2,360.9 L834.8,362.4 L837.5,364.0 L840.1,365.9 L842.8,368.0 L845.4,370.3 L848.1,372.7 L850.7,375.4 L853.3,378.1 L855.9,381.0 L858.6,383.9 L861.2,386.8 M701.5,378.2 L704.3,376.3 L707.2,374.4 L710.0,372.5 L712.8,370.6 L715.6,368.8 L718.4,367.0 L721.2,365.2 L724.0,363.5 L726.8,361.9 L729.6,360.3 L732.4,358.8 L735.2,357.3 L738.0,355.9 L740.8,354.6 L743.5,353.4 L746.3,352.3 L749.0,351.2 L751.8,350.2 L754.5,349.3 L757.3,348.4 L760.0,347.6 L762.8,346.7 L765.5,346.0 L768.3,345.2 L771.1,344.4 L773.9,343.6 L776.7,342.9 L779.5,342.1 L782.3,341.3 L785.1,340.5 L787.9,339.6 L790.7,338.8 L793.5,337.9 L796.4,336.9 L799.2,336.0 L802.0,335.0 L804.8,333.9 L807.7,332.8 L810.5,331.6 L813.3,330.2 L816.1,328.5 L818.9,326.8 L821.7,325.0 L824.5,323.3 L827.3,321.7 L830.1,320.2 L832.8,319.0 L835.6,318.1 L838.4,317.1 L841.2,316.3 L844.0,315.4 L846.8,314.7 L849.6,314.0 L852.4,313.4 L855.2,312.8 L857.9,312.4 L860.7,312.0 L863.5,311.7 L866.3,311.5 M717.4,307.5 L720.0,307.6 L722.7,307.7 L725.3,307.8 L728.0,307.9 L730.7,308.0 L733.3,308.2 L736.0,308.4 L738.6,308.7 L741.3,309.0 L743.9,309.4 L746.6,309.9 L749.2,310.4 L751.9,311.0 L754.5,311.7 L757.2,312.6 L759.8,313.5 L762.5,314.5 L765.1,315.7 L767.7,317.1 L770.4,318.6 L773.0,320.2 L775.7,322.0 L778.3,323.8 L781.0,325.8 L783.6,327.8 L786.3,329.9 L788.9,332.0 L791.6,334.1 L794.2,336.2 L796.9,338.2 L799.5,340.2 L802.2,342.0 L804.8,343.6 L807.5,345.1 L810.1,346.4 L812.7,347.5 L815.3,348.4 L818.0,349.2 L820.6,349.8 L823.2,350.4 L825.8,350.9 L828.4,351.4 L831.0,351.9 L833.6,352.5 L836.3,353.2 L838.9,354.0 L841.5,354.9 L844.2,356.1 L846.8,357.4 L849.4,359.0 L852.1,360.7 L854.7,362.8 L857.4,365.0 L860.0,367.4 L862.7,370.0 L865.3,372.8 L868.0,375.6 L870.6,378.5 L873.2,381.4 M712.7,386.0 L715.5,384.1 L718.4,382.2 L721.2,380.3 L724.0,378.4 L726.8,376.6 L729.6,374.8 L732.4,373.0 L735.2,371.3 L738.0,369.6 L740.8,368.0 L743.6,366.5 L746.4,365.0 L749.2,363.6 L752.0,362.3 L754.7,361.1 L757.5,359.9 L760.2,358.9 L762.9,357.9 L765.7,356.9 L768.4,356.0 L771.2,355.2 L773.9,354.3 L776.7,353.5 L779.4,352.7 L782.2,352.0 L785.0,351.2 L787.8,350.4 L790.6,349.6 L793.4,348.8 L796.2,348.0 L799.0,347.1 L801.8,346.3 L804.7,345.4 L807.5,344.5 L810.3,343.5 L813.2,342.5 L816.0,341.5 L818.8,340.4 L821.6,339.3 L824.4,337.9 L827.3,336.4 L830.0,334.8 L832.8,333.2 L835.6,331.6 L838.4,330.0 L841.2,328.7 L844.0,327.6 L846.8,326.7 L849.6,325.8 L852.3,325.0 L855.1,324.2 L857.9,323.5 L860.7,322.9 L863.5,322.3 L866.3,321.8 L869.1,321.4 L871.9,321.0 L874.7,320.7 L877.5,320.5 M729.1,301.9 L731.8,302.0 L734.4,302.1 L737.1,302.1 L739.8,302.2 L742.4,302.4 L745.1,302.5 L747.7,302.7 L750.4,303.0 L753.1,303.3 L755.7,303.7 L758.4,304.2 L761.0,304.7 L763.7,305.4 L766.3,306.1 L769.0,307.0 L771.6,308.0 L774.3,309.1 L776.9,310.4 L779.6,311.8 L782.2,313.4 L784.9,315.1 L787.5,317.0 L790.2,319.0 L792.9,321.0 L795.5,323.1 L798.2,325.3 L800.8,327.5 L803.5,329.7 L806.1,331.8 L808.8,333.9 L811.4,335.9 L814.1,337.7 L816.7,339.4 L819.4,340.9 L822.0,342.2 L824.6,343.2 L827.3,344.1 L829.9,344.8 L832.5,345.4 L835.1,345.9 L837.7,346.3 L840.4,346.8 L843.0,347.2 L845.6,347.7 L848.2,348.3 L850.8,349.0 L853.5,349.9 L856.1,350.9 L858.8,352.2 L861.4,353.7 L864.0,355.4 L866.7,357.4 L869.4,359.6 L872.0,362.0 L874.7,364.6 L877.3,367.3 L880.0,370.1 L882.6,373.0 L885.3,375.9 M723.9,392.6 L726.7,390.6 L729.5,388.6 L732.3,386.6 L735.2,384.7 L738.0,382.8 L740.8,380.9 L743.6,379.1 L746.4,377.3 L749.2,375.6 L752.0,373.9 L754.8,372.3 L757.6,370.8 L760.3,369.3 L763.1,367.9 L765.8,366.6 L768.6,365.4 L771.3,364.3 L774.1,363.2 L776.8,362.2 L779.5,361.2 L782.3,360.3 L785.0,359.4 L787.7,358.6 L790.5,357.7 L793.3,356.9 L796.0,356.0 L798.8,355.2 L801.6,354.3 L804.4,353.5 L807.2,352.6 L810.1,351.7 L812.9,350.8 L815.7,349.8 L818.6,348.9 L821.4,347.9 L824.2,346.8 L827.1,345.8 L829.9,344.7 L832.7,343.5 L835.5,342.2 L838.3,340.7 L841.1,339.2 L843.9,337.6 L846.7,336.1 L849.5,334.7 L852.3,333.4 L855.0,332.3 L857.8,331.4 L860.6,330.5 L863.4,329.7 L866.2,328.9 L869.0,328.2 L871.8,327.6 L874.6,327.0 L877.3,326.5 L880.1,326.0 L882.9,325.6 L885.7,325.3 L888.5,325.0 M740.9,292.4 L743.5,292.5 L746.2,292.6 L748.9,292.7 L751.5,292.8 L754.2,293.0 L756.8,293.2 L759.5,293.5 L762.2,293.8 L764.8,294.2 L767.5,294.7 L770.1,295.2 L772.8,295.9 L775.4,296.6 L778.1,297.5 L780.8,298.4 L783.4,299.6 L786.1,300.8 L788.7,302.2 L791.4,303.8 L794.0,305.6 L796.7,307.5 L799.3,309.5 L802.0,311.7 L804.7,313.9 L807.3,316.2 L810.0,318.5 L812.6,320.9 L815.3,323.2 L818.0,325.5 L820.6,327.6 L823.3,329.7 L825.9,331.7 L828.6,333.4 L831.2,335.0 L833.8,336.3 L836.5,337.4 L839.1,338.3 L841.7,339.0 L844.3,339.6 L846.9,340.1 L849.6,340.6 L852.2,341.0 L854.8,341.4 L857.4,341.9 L860.0,342.5 L862.7,343.2 L865.3,344.0 L867.9,345.1 L870.6,346.3 L873.2,347.8 L875.9,349.5 L878.5,351.5 L881.2,353.7 L883.8,356.2 L886.5,358.8 L889.2,361.6 L891.8,364.5 L894.5,367.5 L897.1,370.5 M735.0,398.1 L737.8,396.0 L740.7,393.9 L743.5,391.9 L746.3,389.8 L749.1,387.8 L751.9,385.9 L754.7,383.9 L757.5,382.1 L760.3,380.2 L763.1,378.5 L765.9,376.8 L768.7,375.1 L771.4,373.6 L774.2,372.1 L776.9,370.7 L779.7,369.4 L782.4,368.2 L785.1,367.0 L787.9,365.9 L790.6,364.8 L793.3,363.8 L796.0,362.8 L798.8,361.9 L801.5,360.9 L804.3,360.0 L807.0,359.0 L809.8,358.1 L812.6,357.1 L815.4,356.2 L818.3,355.2 L821.1,354.2 L823.9,353.2 L826.8,352.2 L829.6,351.2 L832.4,350.1 L835.3,349.0 L838.1,347.9 L840.9,346.7 L843.7,345.5 L846.6,344.2 L849.4,342.8 L852.1,341.3 L854.9,339.8 L857.7,338.3 L860.5,336.9 L863.3,335.6 L866.1,334.5 L868.8,333.5 L871.6,332.6 L874.4,331.8 L877.2,331.0 L880.0,330.3 L882.8,329.6 L885.5,329.0 L888.3,328.4 L891.1,327.9 L893.9,327.4 L896.7,327.0 L899.5,326.7 M752.7,281.4 L755.3,281.6 L758.0,281.8 L760.6,282.0 L763.3,282.2 L765.9,282.4 L768.6,282.7 L771.3,283.1 L773.9,283.5 L776.6,284.0 L779.2,284.6 L781.9,285.2 L784.5,286.0 L787.2,286.9 L789.8,287.9 L792.5,289.0 L795.2,290.3 L797.8,291.7 L800.5,293.3 L803.1,295.1 L805.8,297.0 L808.4,299.1 L811.1,301.4 L813.8,303.7 L816.4,306.1 L819.1,308.6 L821.7,311.1 L824.4,313.7 L827.1,316.2 L829.7,318.6 L832.4,320.9 L835.0,323.1 L837.7,325.2 L840.3,327.1 L843.0,328.7 L845.6,330.1 L848.2,331.3 L850.8,332.2 L853.4,333.0 L856.1,333.7 L858.7,334.2 L861.3,334.7 L863.9,335.1 L866.5,335.6 L869.1,336.1 L871.7,336.7 L874.4,337.4 L877.0,338.2 L879.6,339.3 L882.3,340.5 L884.9,342.0 L887.6,343.8 L890.2,345.8 L892.9,348.1 L895.5,350.7 L898.2,353.4 L900.9,356.3 L903.5,359.3 L906.2,362.3 L908.9,365.4 M746.2,404.8 L749.0,402.6 L751.8,400.4 L754.6,398.2 L757.5,396.1 L760.3,394.0 L763.1,391.9 L765.9,389.8 L768.7,387.8 L771.5,385.9 L774.3,384.0 L777.0,382.2 L779.8,380.4 L782.6,378.8 L785.3,377.2 L788.1,375.7 L790.8,374.2 L793.5,372.9 L796.2,371.6 L798.9,370.4 L801.7,369.2 L804.4,368.1 L807.1,367.0 L809.8,365.9 L812.6,364.8 L815.3,363.8 L818.1,362.7 L820.9,361.7 L823.7,360.6 L826.5,359.5 L829.3,358.4 L832.1,357.3 L835.0,356.2 L837.8,355.1 L840.6,354.0 L843.5,352.8 L846.3,351.6 L849.2,350.4 L852.0,349.2 L854.8,348.0 L857.6,346.6 L860.4,345.2 L863.2,343.7 L866.0,342.2 L868.8,340.8 L871.5,339.4 L874.3,338.1 L877.1,337.0 L879.9,335.9 L882.6,335.0 L885.4,334.1 L888.2,333.2 L891.0,332.5 L893.8,331.7 L896.6,331.0 L899.4,330.4 L902.1,329.8 L904.9,329.3 L907.7,328.8 L910.5,328.3 M764.4,275.2 L767.0,275.4 L769.7,275.6 L772.4,275.8 L775.0,276.0 L777.7,276.3 L780.3,276.6 L783.0,276.9 L785.6,277.4 L788.3,277.9 L790.9,278.5 L793.6,279.2 L796.3,280.1 L798.9,281.0 L801.6,282.1 L804.2,283.3 L806.9,284.7 L809.5,286.2 L812.2,287.9 L814.9,289.8 L817.5,291.9 L820.2,294.1 L822.8,296.5 L825.5,299.0 L828.2,301.5 L830.8,304.2 L833.5,306.8 L836.2,309.4 L838.8,312.0 L841.5,314.6 L844.1,317.0 L846.8,319.3 L849.4,321.4 L852.1,323.3 L854.7,325.0 L857.3,326.4 L859.9,327.6 L862.6,328.5 L865.2,329.3 L867.8,329.9 L870.4,330.4 L873.0,330.9 L875.6,331.3 L878.2,331.7 L880.8,332.1 L883.5,332.7 L886.1,333.3 L888.7,334.1 L891.3,335.1 L894.0,336.3 L896.6,337.8 L899.3,339.5 L901.9,341.5 L904.6,343.8 L907.2,346.4 L909.9,349.1 L912.6,352.0 L915.3,355.1 L917.9,358.2 L920.6,361.3 M757.4,414.2 L760.2,411.9 L763.0,409.6 L765.9,407.3 L768.7,405.1 L771.5,402.8 L774.3,400.6 L777.1,398.5 L779.9,396.4 L782.7,394.3 L785.5,392.3 L788.3,390.4 L791.0,388.5 L793.8,386.7 L796.5,385.0 L799.2,383.4 L802.0,381.9 L804.7,380.4 L807.4,379.0 L810.1,377.6 L812.8,376.3 L815.5,375.1 L818.2,373.9 L821.0,372.7 L823.7,371.5 L826.4,370.3 L829.2,369.2 L832.0,368.0 L834.8,366.8 L837.6,365.7 L840.4,364.5 L843.2,363.3 L846.1,362.1 L848.9,360.8 L851.8,359.6 L854.6,358.4 L857.4,357.1 L860.3,355.8 L863.1,354.5 L865.9,353.2 L868.7,351.8 L871.5,350.4 L874.3,348.9 L877.1,347.5 L879.9,346.1 L882.7,344.7 L885.4,343.4 L888.2,342.3 L891.0,341.2 L893.8,340.2 L896.5,339.2 L899.3,338.4 L902.1,337.5 L904.9,336.7 L907.7,336.0 L910.5,335.3 L913.2,334.6 L916.0,334.0 L918.8,333.4 L921.6,332.9 M776.1,270.4 L778.8,270.5 L781.4,270.7 L784.1,270.9 L786.7,271.1 L789.4,271.4 L792.0,271.7 L794.7,272.1 L797.3,272.6 L800.0,273.1 L802.7,273.8 L805.3,274.5 L808.0,275.4 L810.6,276.4 L813.3,277.5 L815.9,278.8 L818.6,280.3 L821.3,281.9 L823.9,283.7 L826.6,285.7 L829.3,287.9 L831.9,290.3 L834.6,292.8 L837.3,295.4 L839.9,298.1 L842.6,300.9 L845.3,303.6 L847.9,306.4 L850.6,309.1 L853.2,311.7 L855.9,314.2 L858.5,316.5 L861.2,318.7 L863.8,320.7 L866.5,322.4 L869.1,323.8 L871.7,324.9 L874.3,325.9 L876.9,326.6 L879.5,327.2 L882.2,327.7 L884.8,328.1 L887.4,328.5 L890.0,328.8 L892.6,329.2 L895.2,329.7 L897.8,330.3 L900.4,331.0 L903.1,332.0 L905.7,333.1 L908.3,334.5 L911.0,336.2 L913.6,338.2 L916.3,340.5 L919.0,343.1 L921.7,345.8 L924.3,348.8 L927.0,351.8 L929.7,355.0 L932.4,358.1 M768.5,425.9 L771.3,423.5 L774.1,421.1 L777.0,418.8 L779.8,416.5 L782.6,414.2 L785.4,411.9 L788.2,409.7 L791.0,407.5 L793.8,405.4 L796.6,403.3 L799.4,401.3 L802.2,399.4 L804.9,397.5 L807.7,395.8 L810.4,394.1 L813.1,392.5 L815.8,390.9 L818.5,389.5 L821.2,388.1 L823.9,386.7 L826.6,385.4 L829.3,384.1 L832.1,382.8 L834.8,381.6 L837.5,380.4 L840.3,379.1 L843.1,377.9 L845.9,376.7 L848.7,375.4 L851.5,374.2 L854.4,372.9 L857.2,371.7 L860.1,370.4 L862.9,369.1 L865.8,367.8 L868.6,366.5 L871.5,365.2 L874.3,363.9 L877.1,362.6 L879.9,361.2 L882.7,359.8 L885.5,358.5 L888.3,357.1 L891.1,355.7 L893.9,354.4 L896.6,353.2 L899.4,352.1 L902.2,351.0 L905.0,350.0 L907.7,349.1 L910.5,348.2 L913.3,347.3 L916.1,346.5 L918.9,345.8 L921.7,345.1 L924.5,344.4 L927.3,343.8 L930.1,343.1 L932.9,342.5 M787.8,267.8 L790.5,267.9 L793.1,268.1 L795.8,268.2 L798.4,268.5 L801.1,268.7 L803.7,269.0 L806.4,269.4 L809.0,269.8 L811.7,270.4 L814.4,271.0 L817.0,271.8 L819.7,272.7 L822.3,273.7 L825.0,274.9 L827.7,276.2 L830.3,277.7 L833.0,279.4 L835.7,281.3 L838.3,283.4 L841.0,285.7 L843.7,288.1 L846.3,290.7 L849.0,293.5 L851.7,296.3 L854.3,299.1 L857.0,302.0 L859.7,304.8 L862.3,307.5 L865.0,310.2 L867.7,312.8 L870.3,315.1 L872.9,317.3 L875.6,319.3 L878.2,321.0 L880.8,322.4 L883.5,323.5 L886.1,324.4 L888.7,325.1 L891.3,325.6 L893.9,326.0 L896.5,326.4 L899.1,326.6 L901.7,326.9 L904.3,327.2 L907.0,327.6 L909.6,328.1 L912.2,328.8 L914.8,329.6 L917.5,330.7 L920.1,332.0 L922.8,333.6 L925.4,335.6 L928.1,337.9 L930.8,340.4 L933.4,343.1 L936.1,346.0 L938.8,349.1 L941.5,352.2 L944.2,355.4 M779.4,438.8 L782.2,436.4 L785.1,434.0 L787.9,431.7 L790.7,429.3 L793.6,427.0 L796.4,424.7 L799.2,422.4 L802.0,420.2 L804.8,418.1 L807.6,416.0 L810.4,413.9 L813.2,412.0 L815.9,410.1 L818.7,408.3 L821.4,406.5 L824.1,404.9 L826.8,403.3 L829.5,401.8 L832.2,400.4 L835.0,399.0 L837.7,397.6 L840.4,396.3 L843.1,395.0 L845.8,393.8 L848.6,392.5 L851.4,391.2 L854.1,390.0 L857.0,388.7 L859.8,387.5 L862.6,386.2 L865.5,384.9 L868.3,383.6 L871.2,382.3 L874.0,381.0 L876.9,379.7 L879.8,378.4 L882.6,377.1 L885.5,375.8 L888.3,374.5 L891.1,373.2 L893.9,371.9 L896.7,370.7 L899.5,369.4 L902.3,368.2 L905.1,367.0 L907.9,365.8 L910.7,364.7 L913.4,363.7 L916.2,362.7 L919.0,361.8 L921.8,361.0 L924.6,360.2 L927.4,359.4 L930.2,358.7 L933.0,358.0 L935.8,357.3 L938.6,356.7 L941.4,356.0 L944.2,355.4 M635.1,342.8 L634.6,353.4 M646.4,344.8 L645.8,355.8 M657.6,347.0 L657.0,358.3 M668.8,349.5 L668.1,361.2 M680.0,352.5 L679.2,365.1 M691.1,356.7 L690.3,370.8 M702.2,362.6 L701.5,378.2 M713.4,370.2 L712.7,386.0 M724.6,378.0 L723.9,392.6 M735.8,384.3 L735.0,398.1 M746.9,389.4 L746.2,404.8 M758.1,395.6 L757.4,414.2 M769.3,404.6 L768.5,425.9 M780.4,416.0 L779.4,438.8 M646.9,335.1 L646.4,344.8 M658.2,336.9 L657.6,347.0 M669.4,338.9 L668.8,349.5 M680.6,341.3 L680.0,352.5 M691.8,344.4 L691.1,356.7 M702.9,348.8 L702.2,362.6 M714.0,355.0 L713.4,370.2 M725.2,362.8 L724.6,378.0 M736.4,370.5 L735.8,384.3 M747.6,376.6 L746.9,389.4 M758.7,381.3 L758.1,395.6 M769.9,387.0 L769.3,404.6 M781.1,395.5 L780.4,416.0 M792.2,406.6 L791.3,428.8 M658.6,328.4 L658.2,336.9 M669.9,330.0 L669.4,338.9 M681.2,331.8 L680.6,341.3 M692.4,334.1 L691.8,344.4 M703.5,337.3 L702.9,348.8 M714.6,341.9 L714.0,355.0 M725.8,348.5 L725.2,362.8 M737.0,356.4 L736.4,370.5 M748.2,364.1 L747.6,376.6 M759.3,369.8 L758.7,381.3 M770.4,374.1 L769.9,387.0 M781.6,379.3 L781.1,395.5 M792.8,387.3 L792.2,406.6 M803.9,398.2 L803.2,419.3 M670.4,323.2 L669.9,330.0 M681.7,324.5 L681.2,331.8 M692.9,326.1 L692.4,334.1 M704.1,328.3 L703.5,337.3 M715.2,331.6 L714.6,341.9 M726.3,336.5 L725.8,348.5 M737.5,343.3 L737.0,356.4 M748.6,351.4 L748.2,364.1 M759.8,359.0 L759.3,369.8 M770.9,364.5 L770.4,374.1 M782.0,368.3 L781.6,379.3 M793.1,373.1 L792.8,387.3 M804.3,380.6 L803.9,398.2 M815.4,391.1 L814.9,410.7 M682.2,319.1 L681.7,324.5 M693.4,320.1 L692.9,326.1 M704.6,321.6 L704.1,328.3 M715.7,323.7 L715.2,331.6 M726.8,327.0 L726.3,336.5 M737.9,332.1 L737.5,343.3 M749.1,339.2 L748.6,351.4 M760.2,347.5 L759.8,359.0 M771.4,355.1 L770.9,364.5 M782.5,360.3 L782.0,368.3 M793.5,363.7 L793.1,373.1 M804.6,368.0 L804.3,380.6 M815.7,375.0 L815.4,391.1 M826.8,385.3 L826.4,403.6 M693.9,315.5 L693.4,320.1 M705.1,316.3 L704.6,321.6 M716.3,317.5 L715.7,323.7 M727.4,319.6 L726.8,327.0 M738.5,323.0 L737.9,332.1 M749.6,328.3 L749.1,339.2 M760.7,335.8 L760.2,347.5 M771.9,344.2 L771.4,355.1 M783.0,351.7 L782.5,360.3 M794.1,356.6 L793.5,363.7 M805.1,359.7 L804.6,368.0 M816.1,363.5 L815.7,375.0 M827.2,370.0 L826.8,385.3 M838.3,380.0 L837.9,397.6 M705.6,311.8 L705.1,316.3 M716.8,312.4 L716.3,317.5 M728.0,313.5 L727.4,319.6 M739.1,315.5 L738.5,323.0 M750.3,318.9 L749.6,328.3 M761.4,324.6 L760.7,335.8 M772.5,332.3 L771.9,344.2 M783.7,340.9 L783.0,351.7 M794.8,348.4 L794.1,356.6 M805.8,353.0 L805.1,359.7 M816.9,355.7 L816.1,363.5 M827.9,359.0 L827.2,370.0 M839.0,365.1 L838.3,380.0 M850.1,374.8 L849.4,392.1 M717.4,307.5 L716.8,312.4 M728.6,307.9 L728.0,313.5 M739.8,308.8 L739.1,315.5 M750.9,310.8 L750.3,318.9 M762.1,314.4 L761.4,324.6 M773.2,320.3 L772.5,332.3 M784.4,328.4 L783.7,340.9 M795.6,337.2 L794.8,348.4 M806.7,344.7 L805.8,353.0 M817.8,349.1 L816.9,355.7 M828.8,351.5 L827.9,359.0 M839.8,354.3 L839.0,365.1 M851.0,360.0 L850.1,374.8 M862.1,369.5 L861.2,386.8 M729.1,301.9 L728.6,307.9 M740.3,302.2 L739.8,308.8 M751.5,303.1 L750.9,310.8 M762.7,305.1 L762.1,314.4 M773.9,309.0 L773.2,320.3 M785.1,315.3 L784.4,328.4 M796.3,323.8 L795.6,337.2 M807.5,332.9 L806.7,344.7 M818.6,340.5 L817.8,349.1 M829.7,344.8 L828.8,351.5 M840.7,346.8 L839.8,354.3 M851.8,349.3 L851.0,360.0 M862.9,354.6 L862.1,369.5 M874.1,364.0 L873.2,381.4 M740.9,292.4 L740.3,302.2 M752.1,292.8 L751.5,303.1 M763.3,294.0 L762.7,305.1 M774.5,296.3 L773.9,309.0 M785.7,300.6 L785.1,315.3 M796.9,307.6 L796.3,323.8 M808.1,316.8 L807.5,332.9 M819.3,326.6 L818.6,340.5 M830.4,334.6 L829.7,344.8 M841.5,339.0 L840.7,346.8 M852.5,341.1 L851.8,349.3 M863.6,343.5 L862.9,354.6 M874.7,348.7 L874.1,364.0 M885.9,358.3 L885.3,375.9 M752.7,281.4 L752.1,292.8 M763.9,282.2 L763.3,294.0 M775.0,283.7 L774.5,296.3 M786.2,286.6 L785.7,300.6 M797.4,291.5 L796.9,307.6 M808.6,299.3 L808.1,316.8 M819.8,309.3 L819.3,326.6 M831.1,319.8 L830.4,334.6 M842.2,328.3 L841.5,339.0 M853.3,333.0 L852.5,341.1 M864.3,335.2 L863.6,343.5 M875.3,337.7 L874.7,348.7 M886.4,343.0 L885.9,358.3 M897.6,352.8 L897.1,370.5 M764.4,275.2 L763.9,282.2 M775.6,276.0 L775.0,283.7 M786.8,277.6 L786.2,286.6 M798.0,280.7 L797.4,291.5 M809.2,286.0 L808.6,299.3 M820.4,294.3 L819.8,309.3 M831.6,304.9 L831.1,319.8 M842.8,315.8 L842.2,328.3 M853.9,324.5 L853.3,333.0 M865.0,329.2 L864.3,335.2 M876.0,331.3 L875.3,337.7 M887.0,333.6 L886.4,343.0 M898.1,338.7 L897.6,352.8 M909.3,348.5 L908.9,365.4 M776.1,270.4 L775.6,276.0 M787.3,271.2 L786.8,277.6 M798.5,272.8 L798.0,280.7 M809.7,276.0 L809.2,286.0 M820.9,281.7 L820.4,294.3 M832.1,290.5 L831.6,304.9 M843.3,301.7 L842.8,315.8 M854.6,313.0 L853.9,324.5 M865.7,321.9 L865.0,329.2 M876.7,326.6 L876.0,331.3 M887.7,328.5 L887.0,333.6 M898.8,330.5 L898.1,338.7 M909.9,335.5 L909.3,348.5 M921.1,345.2 L920.6,361.3 M787.8,267.8 L787.3,271.2 M799.0,268.5 L798.5,272.8 M810.2,270.1 L809.7,276.0 M821.4,273.3 L820.9,281.7 M832.6,279.1 L832.1,290.5 M843.9,288.3 L843.3,301.7 M855.1,299.9 L854.6,313.0 M866.3,311.5 L865.7,321.9 M877.5,320.5 L876.7,326.6 M888.5,325.0 L887.7,328.5 M899.5,326.7 L898.8,330.5 M910.5,328.3 L909.9,335.5 M921.6,332.9 L921.1,345.2 M932.9,342.5 L932.4,358.1" fill="none" stroke="#cbebd3" stroke-width="0.65"/>
<path d="M623.3,351.1 L626.1,349.1 L628.9,347.1 L631.7,345.1 L634.5,343.2 L637.3,341.3 L640.1,339.4 L642.9,337.6 L645.7,335.8 L648.5,334.1 L651.3,332.4 L654.1,330.9 L656.8,329.3 L659.6,327.9 L662.4,326.6 L665.2,325.3 L668.0,324.1 L670.8,323.0 L673.6,322.0 L676.4,321.0 L679.2,320.0 L682.0,319.1 L684.7,318.2 L687.5,317.4 L690.3,316.5 L693.1,315.7 L695.9,314.9 L698.7,314.0 L701.5,313.1 L704.2,312.3 L707.0,311.3 L709.8,310.4 L712.6,309.4 L715.4,308.3 L718.2,307.2 L721.0,306.0 L723.7,304.7 L726.5,303.3 L729.3,301.8 L732.1,300.2 L734.9,298.0 L737.7,295.5 L740.5,292.8 L743.3,289.9 L746.1,287.1 L748.9,284.5 L751.7,282.2 L754.4,280.3 L757.2,278.8 L760.0,277.4 L762.8,276.0 L765.6,274.7 L768.4,273.4 L771.1,272.2 L773.9,271.1 L776.7,270.2 L779.5,269.3 L782.3,268.7 L785.0,268.1 L787.8,267.8 L790.5,267.9 L793.1,268.1 L795.8,268.2 L798.4,268.5 L801.1,268.7 L803.7,269.0 L806.4,269.4 L809.0,269.8 L811.7,270.4 L814.4,271.0 L817.0,271.8 L819.7,272.7 L822.3,273.7 L825.0,274.9 L827.7,276.2 L830.3,277.7 L833.0,279.4 L835.7,281.3 L838.3,283.4 L841.0,285.7 L843.7,288.1 L846.3,290.7 L849.0,293.5 L851.7,296.3 L854.3,299.1 L857.0,302.0 L859.7,304.8 L862.3,307.5 L865.0,310.2 L867.7,312.8 L870.3,315.1 L872.9,317.3 L875.6,319.3 L878.2,321.0 L880.8,322.4 L883.5,323.5 L886.1,324.4 L888.7,325.1 L891.3,325.6 L893.9,326.0 L896.5,326.4 L899.1,326.6 L901.7,326.9 L904.3,327.2 L907.0,327.6 L909.6,328.1 L912.2,328.8 L914.8,329.6 L917.5,330.7 L920.1,332.0 L922.8,333.6 L925.4,335.6 L928.1,337.9 L930.8,340.4 L933.4,343.1 L936.1,346.0 L938.8,349.1 L941.5,352.2 L944.2,355.4 L941.4,356.0 L938.6,356.7 L935.8,357.3 L933.0,358.0 L930.2,358.7 L927.4,359.4 L924.6,360.2 L921.8,361.0 L919.0,361.8 L916.2,362.7 L913.4,363.7 L910.7,364.7 L907.9,365.8 L905.1,367.0 L902.3,368.2 L899.5,369.4 L896.7,370.7 L893.9,371.9 L891.1,373.2 L888.3,374.5 L885.5,375.8 L882.6,377.1 L879.8,378.4 L876.9,379.7 L874.0,381.0 L871.2,382.3 L868.3,383.6 L865.5,384.9 L862.6,386.2 L859.8,387.5 L857.0,388.7 L854.1,390.0 L851.4,391.2 L848.6,392.5 L845.8,393.8 L843.1,395.0 L840.4,396.3 L837.7,397.6 L835.0,399.0 L832.2,400.4 L829.5,401.8 L826.8,403.3 L824.1,404.9 L821.4,406.5 L818.7,408.3 L815.9,410.1 L813.2,412.0 L810.4,413.9 L807.6,416.0 L804.8,418.1 L802.0,420.2 L799.2,422.4 L796.4,424.7 L793.6,427.0 L790.7,429.3 L787.9,431.7 L785.1,434.0 L782.2,436.4 L779.4,438.8 L776.8,435.7 L774.2,432.6 L771.6,429.5 L769.0,426.5 L766.4,423.5 L763.8,420.7 L761.2,417.9 L758.5,415.3 L755.9,412.8 L753.2,410.4 L750.6,408.1 L747.9,406.0 L745.2,404.1 L742.6,402.3 L739.9,400.7 L737.3,399.3 L734.6,397.9 L732.0,396.6 L729.4,395.3 L726.7,394.0 L724.1,392.7 L721.4,391.3 L718.8,389.8 L716.1,388.2 L713.5,386.5 L710.8,384.7 L708.2,382.9 L705.5,381.0 L702.9,379.2 L700.2,377.3 L697.5,375.4 L694.9,373.6 L692.2,371.9 L689.6,370.3 L687.0,368.8 L684.3,367.5 L681.7,366.2 L679.0,365.1 L676.4,364.0 L673.8,363.0 L671.2,362.1 L668.5,361.3 L665.9,360.6 L663.3,359.9 L660.6,359.2 L658.0,358.5 L655.3,357.9 L652.7,357.3 L650.0,356.7 L647.4,356.1 L644.7,355.6 L642.0,355.0 L639.4,354.4 L636.7,353.9 L634.0,353.3 L631.3,352.7 L628.7,352.2 L626.0,351.6 L623.3,351.1Z" stroke="#888888" stroke-width="1.2" stroke-dasharray="6.5 4.5" fill="none"/>
<path d="M660.9,327.3 L713.2,329.5 M713.2,329.5 L779.9,314.0 M730.3,301.3 L779.9,314.0 M755.0,280.0 L803.3,285.0 M803.3,285.0 L838.0,283.1 M779.9,314.0 L803.3,285.0 M803.3,285.0 L847.7,335.7 M779.9,314.0 L822.6,366.9 M847.7,335.7 L822.6,366.9 M847.7,335.7 L886.0,335.1 M847.7,335.7 L878.8,321.3 M886.0,335.1 L923.0,333.8 M886.0,335.1 L866.8,366.8 M822.6,366.9 L866.8,366.8 M713.2,329.5 L751.0,383.2 M751.0,383.2 L795.3,381.6 M751.0,383.2 L822.6,366.9 M795.3,381.6 L866.8,366.8 M713.2,329.5 L672.8,358.8 M751.0,383.2 L733.5,398.6 M795.3,381.6 L758.4,409.6 M795.3,381.6 L818.0,409.0 M866.8,366.8 L864.8,382.0 M886.0,335.1 L911.5,362.0" stroke="#888888" stroke-width="1.2" stroke-dasharray="6.5 4.5" fill="none"/>
<rect x="657.9" y="324.3" width="6" height="6" fill="#5e5e5e"/>
<rect x="710.2" y="326.5" width="6" height="6" fill="#5e5e5e"/>
<rect x="727.3" y="298.3" width="6" height="6" fill="#5e5e5e"/>
<rect x="752.0" y="277.0" width="6" height="6" fill="#5e5e5e"/>
<rect x="776.9" y="311.0" width="6" height="6" fill="#5e5e5e"/>
<rect x="800.3" y="282.0" width="6" height="6" fill="#5e5e5e"/>
<rect x="835.0" y="280.1" width="6" height="6" fill="#5e5e5e"/>
<rect x="875.8" y="318.3" width="6" height="6" fill="#5e5e5e"/>
<rect x="844.7" y="332.7" width="6" height="6" fill="#5e5e5e"/>
<rect x="883.0" y="332.1" width="6" height="6" fill="#5e5e5e"/>
<rect x="920.0" y="330.8" width="6" height="6" fill="#5e5e5e"/>
<rect x="819.6" y="363.9" width="6" height="6" fill="#5e5e5e"/>
<rect x="863.8" y="363.8" width="6" height="6" fill="#5e5e5e"/>
<rect x="748.0" y="380.2" width="6" height="6" fill="#5e5e5e"/>
<rect x="792.3" y="378.6" width="6" height="6" fill="#5e5e5e"/>
<circle cx="623.3" cy="351.1" r="3.2" fill="#c93400"/>
<circle cx="787.8" cy="267.8" r="3.2" fill="#c93400"/>
<circle cx="779.4" cy="438.8" r="3.2" fill="#c93400"/>
<circle cx="944.2" cy="355.4" r="3.2" fill="#c93400"/>
<circle cx="623.3" cy="438.5" r="3.2" fill="#c93400"/>
<circle cx="779.4" cy="525.8" r="3.2" fill="#c93400"/>
<circle cx="944.2" cy="442.4" r="3.2" fill="#c93400"/></svg>
<svg style="left:169px;top:77px" width="25" height="21" viewBox="0 0 25 21"><defs><linearGradient id="wg1" x1="0" y1="0" x2="1" y2="1"><stop offset="0" stop-color="#ffffff"/><stop offset="1" stop-color="#d4d4d4"/></linearGradient></defs><polygon points="8.40,1.70 9.24,4.96 13.40,3.30 9.90,6.11 12.20,8.60 9.15,7.50 8.50,10.60 7.60,7.47 4.00,8.60 6.90,6.27 4.00,4.20 7.56,4.96" fill="#ffff00" stroke="#8f8f50" stroke-width="0.5"/><rect x="9.5" y="7.5" width="10" height="10" fill="url(#wg1)" stroke="#555" stroke-width="1.2"/><rect x="10" y="8" width="9" height="2" fill="#555"/><rect x="10.5" y="8.3" width="2" height="1.4" fill="#fff"/><rect x="13.5" y="8.3" width="5.3" height="1.4" fill="#3344ff"/></svg>
<svg style="left:200px;top:77px" width="25" height="21" viewBox="0 0 25 21"><defs><linearGradient id="wg2" x1="0" y1="0" x2="1" y2="1"><stop offset="0" stop-color="#ffffff"/><stop offset="1" stop-color="#d4d4d4"/></linearGradient></defs><defs><linearGradient id="bg2" x1="0" y1="0" x2="0" y2="1"><stop offset="0" stop-color="#a8c4ee"/><stop offset="1" stop-color="#3d6bd0"/></linearGradient></defs><rect x="4.5" y="7.5" width="10" height="10" fill="url(#wg2)" stroke="#555" stroke-width="1.2"/><rect x="5" y="8" width="9" height="2" fill="#555"/><rect x="5.5" y="8.3" width="2" height="1.4" fill="#fff"/><rect x="8.5" y="8.3" width="2" height="1.4" fill="#3344ff"/><path d="M15.8,2.6 L18.6,2.6 L19.9,8.6 L15.2,8.6 Z" fill="url(#bg2)"/><path d="M5.2,7.2 C6,5.4 8,4.3 10.5,4 C12.5,3.6 14.8,3.8 16,5.2 C16.8,6.4 16.4,8.4 15,9.6 C13.8,10.6 12.2,10.8 11,10 C10,9.3 9,8.6 7.6,8.4 C6.6,8.3 5.6,8 5.2,7.2 Z" fill="#dcc09a" stroke="#c0a078" stroke-width="0.4"/><path d="M6.5,6.6 C8,5.4 10,5 12.2,5" fill="none" stroke="#f4e6d0" stroke-width="0.9"/><path d="M11.5,6.5 C12.5,6.2 13.8,6.4 14.6,7.2" fill="none" stroke="#f0dcc0" stroke-width="0.8"/></svg>
<svg style="left:501px;top:133px" width="25" height="21" viewBox="0 0 25 21"><path d="M8.3,2.3 L13.7,7.5 M13.7,2.3 L8.3,7.5" stroke="#ff0000" stroke-width="1.4" stroke-linecap="round"/><path d="M11.6,5.8 L11.9,14.3 L13.9,12.4 L15.9,16.6 L17.5,15.8 L15.5,11.7 L18.4,11.2 Z" fill="#ffffff" stroke="#8a8a8a" stroke-width="0.8" stroke-linejoin="round"/></svg>
<svg style="left:532px;top:133px" width="25" height="21" viewBox="0 0 25 21"><path d="M8,5 H15.6 A3.85,3.85 0 0 1 15.6,12.7 H7.6" fill="none" stroke="#4d4d4d" stroke-width="1.8"/><polygon points="4.9,12.7 7.9,9.9 7.9,15.6" fill="#4d4d4d"/></svg>
<svg style="left:14px;top:544px" width="25" height="21" viewBox="0 0 25 21"><path d="M7.4,5.4 L16.6,14.6 M16.6,5.4 L7.4,14.6" stroke="#ff0000" stroke-width="2.6" stroke-linecap="round"/></svg>
<svg style="left:223px;top:544px" width="25" height="21" viewBox="0 0 25 21"><path d="M7.8,2.7 H16.4 L19.3,5.6 V17.3 H7.8 Z" fill="#ffffff" stroke="#555" stroke-width="1.2" stroke-linejoin="round"/><rect x="16.6" y="3.6" width="1.3" height="1.3" fill="#fff"/><rect x="4" y="5" width="13.8" height="7.7" fill="#63a158"/><path d="M5,6.1 L6.7,6.1 L7.1,7.4 L7.5,6.1 L9.2,6.1 L8,9 L9.2,11.7 L7.5,11.7 L7.1,10.5 L6.7,11.7 L5,11.7 L6.2,9 Z" fill="#ffffff" opacity="0.92"/><rect x="10.2" y="6.2" width="6.6" height="5.4" fill="none" stroke="#c5e2bd" stroke-width="0.8"/><path d="M12.4,6.2 V11.6 M14.6,6.2 V11.6 M10.2,9.8 H16.8" stroke="#c5e2bd" stroke-width="0.8"/><polygon points="11,14 16,14 13.5,16.4" fill="#63a158"/></svg>
<svg style="left:251px;top:544px" width="25" height="21" viewBox="0 0 25 21"><path d="M7.8,2.7 H16.4 L19.3,5.6 V17.3 H7.8 Z" fill="#ffffff" stroke="#555" stroke-width="1.2" stroke-linejoin="round"/><rect x="16.6" y="3.6" width="1.3" height="1.3" fill="#fff"/><rect x="4" y="5" width="13.8" height="7.7" fill="#63a158"/><path d="M5,6.1 L6.7,6.1 L7.1,7.4 L7.5,6.1 L9.2,6.1 L8,9 L9.2,11.7 L7.5,11.7 L7.1,10.5 L6.7,11.7 L5,11.7 L6.2,9 Z" fill="#ffffff" opacity="0.92"/><rect x="10.2" y="6.2" width="6.6" height="5.4" fill="none" stroke="#c5e2bd" stroke-width="0.8"/><path d="M12.4,6.2 V11.6 M14.6,6.2 V11.6 M10.2,9.8 H16.8" stroke="#c5e2bd" stroke-width="0.8"/><polygon points="11,16.3 16,16.3 13.5,13.9" fill="#63a158"/></svg>
<svg style="left:88.6px;top:610.3px" width="8" height="13.6"><polygon points="1.2000000000000002,4.1 4,1 6.8,4.1" fill="#555"/><polygon points="1.2000000000000002,9.5 4,12.6 6.8,9.5" fill="#555"/></svg>
<svg style="left:88.6px;top:646.9px" width="8" height="13.6"><polygon points="1.2000000000000002,4.1 4,1 6.8,4.1" fill="#555"/><polygon points="1.2000000000000002,9.5 4,12.6 6.8,9.5" fill="#555"/></svg>
<svg style="left:126.5px;top:315px" width="8" height="11.1"><polygon points="1.2000000000000002,4.1 4,1 6.8,4.1" fill="#555"/><polygon points="1.2000000000000002,7 4,10.1 6.8,7" fill="#555"/></svg>
<svg style="left:577px;top:645px" width="25" height="21" viewBox="0 0 25 21"><rect x="4.6" y="2.6" width="7.2" height="6.2" fill="#fff" stroke="#9a9a9a" stroke-width="1.2"/><path d="M6.3,8 V5 H7.6 V8 M8.3,8 V6.3 H9.6 V8" fill="#aaa" stroke="#aaa" stroke-width="0.8"/><path d="M13.5,3.5 C16,3.5 17.5,5 17.5,7.5" fill="none" stroke="#999" stroke-width="1.2"/><polygon points="15.8,7.2 19.2,7.2 17.5,9.4" fill="#999"/><path d="M10.5,15.8 C8,15.8 6.6,14.3 6.6,12.3" fill="none" stroke="#999" stroke-width="1.2"/><polygon points="4.9,12.6 8.3,12.6 6.6,10.4" fill="#999"/><rect x="12" y="10.5" width="5" height="4" fill="#8c8c8c"/><rect x="13.5" y="13.5" width="6" height="4" fill="#9c9c9c"/><path d="M12,11 V18" stroke="#bbb" stroke-width="0.8"/></svg>
</body></html>
